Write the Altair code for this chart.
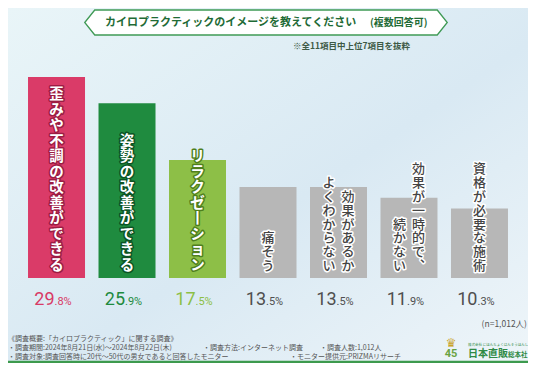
import altair as alt
import pandas as pd

# ---------------- data ----------------
categories = ["歪みや不調の改善ができる", "姿勢の改善ができる", "リラクゼーション", "痛そう",
              "効果があるかよくわからない", "効果が一時的で、続かない", "資格が必要な施術"]
values = [29.8, 25.9, 17.5, 13.5, 13.5, 11.9, 10.3]
label_right = ["歪みや不調の改善ができる", "姿勢の改善ができる", "リラクゼーション", "痛そう",
               "効果があるか", "効果が一時的で、", "資格が必要な施術"]
label_left = ["", "", "", "", "よくわからない", "続かない", ""]
bar_colors = ["#da3b68", "#1f8b3f", "#8dbf47", "#b7b7b7", "#b7b7b7", "#b7b7b7", "#b7b7b7"]
value_colors = ["#d83a66", "#1e8a3e", "#8cbf45", "#4f4f4f", "#4f4f4f", "#4f4f4f", "#4f4f4f"]
outline_colors = ["#9c1c43", "#0c5424", "#4f7f1d", "#ffffff", "#ffffff", "#ffffff", "#ffffff"]
label_colors = ["#ffffff", "#ffffff", "#ffffff", "#444444", "#444444", "#444444", "#444444"]

title_main = "カイロプラクティックのイメージを教えてください"
title_paren = "(複数回答可)"
subtitle = "※全11項目中上位7項目を抜粋"
n_note = "(n=1,012人)"
footer_lines = [
    ["《調査概要:「カイロプラクティック」に関する調査》"],
    ["・調査期間:2024年8月21日(水)～2024年8月22日(木)", "・調査方法:インターネット調査", "・調査人数:1,012人"],
    ["・調査対象:調査回答時に20代～50代の男女であると回答したモニター", "・モニター提供元:PRIZMAリサーチ"],
]

JP = "Noto Sans CJK JP"
W, H = 520, 355

VERT = {"ー": "丨", "、": "︑"}


def vertical(s):
    return "\n".join(VERT.get(ch, ch) for ch in s)


px_per = 201 / 29.8
# label styles: colored bars (first 3) and gray bars
CSIZE, CLH = 14.5, 15.5
GSIZE, GLH = 13, 13.8
GAP = 5


def top_val(s, colored):
    if not s:
        return 0
    size, lh = (CSIZE, CLH) if colored else (GSIZE, GLH)
    return (GAP + (len(s) - 1) * lh + size) / px_per


df = pd.DataFrame({
    "cat": categories,
    "value": values,
    "base": [0] * len(values),
    "barcolor": bar_colors,
    "vcolor": value_colors,
    "outline": outline_colors,
    "lcolor": label_colors,
    "int_part": [str(int(v)) for v in values],
    "dec_part": ["." + f"{v:.1f}".split(".")[1] + "%" for v in values],
    "right": [vertical(s) for s in label_right],
    "left": [vertical(s) for s in label_left],
    "ytop_r": [top_val(s, i < 3) for i, s in enumerate(label_right)],
    "ytop_l": [top_val(s, i < 3) for i, s in enumerate(label_left)],
    "two": [1 if s else 0 for s in label_left],
    "idx": list(range(len(values))),
})

yscale = alt.Scale(domain=[-(H - 270) / px_per, 270 / px_per], nice=False, zero=False)
xenc = alt.X("cat:N", sort=categories, axis=None,
             scale=alt.Scale(paddingInner=0.1915, paddingOuter=0.284))
yb = alt.Y("base:Q", scale=yscale, axis=None)

base = alt.Chart(df)

one = pd.DataFrame({"k": [0]})


def txt(s, x, y, size, color="#555555", align="left", weight="normal", font=JP, baseline="middle"):
    return alt.Chart(one).mark_text(text=s, align=align, baseline=baseline, fontSize=size,
                                    color=color, fontWeight=weight, font=font).encode(
        x=alt.value(x), y=alt.value(y))


# background
bg = alt.Chart(one).mark_rect(color=alt.Gradient(
    gradient="linear",
    stops=[alt.GradientStop(color="#e9f5f8", offset=0),
           alt.GradientStop(color="#d9e9f3", offset=0.55),
           alt.GradientStop(color="#eef5f9", offset=1)],
    x1=0, y1=0, x2=1, y2=1)).encode(
    x=alt.value(0), x2=alt.value(W), y=alt.value(0), y2=alt.value(H))

bars = base.mark_bar().encode(
    x=xenc,
    y=alt.Y("value:Q", scale=yscale, axis=None),
    y2=alt.Y2("base:Q"),
    color=alt.Color("barcolor:N", scale=None),
)

layers = [bg, bars]

colored = base.transform_filter("datum.idx < 3")
gray = base.transform_filter("datum.idx >= 3")


def vlabel(chart, field, yfield, dx, size, lh, weight):
    enc = dict(x=xenc, y=alt.Y(f"{yfield}:Q", scale=yscale, axis=None), text=f"{field}:N",
               fill=alt.Fill("lcolor:N", scale=None))
    halo = chart.mark_text(baseline="top", align="center", lineBreak="\n", dx=dx,
                           fontSize=size, lineHeight=lh, font=JP, fontWeight=weight,
                           strokeWidth=3, strokeJoin="round").encode(
        stroke=alt.Stroke("outline:N", scale=None), **enc)
    fill = chart.mark_text(baseline="top", align="center", lineBreak="\n", dx=dx,
                           fontSize=size, lineHeight=lh, font=JP, fontWeight=weight).encode(**enc)
    return [halo, fill]


layers += vlabel(colored, "right", "ytop_r", 0, CSIZE, CLH, "bold")
layers += vlabel(gray.transform_filter("datum.two == 0"), "right", "ytop_r", 0, GSIZE, GLH, 500)
layers += vlabel(gray.transform_filter("datum.two == 1"), "right", "ytop_r", 9.5, GSIZE, GLH, 500)
layers += vlabel(gray.transform_filter("datum.two == 1"), "left", "ytop_l", -9.5, GSIZE, GLH, 500)

# percent labels
pint = base.mark_text(align="right", baseline="alphabetic", dx=-2, dy=27, fontSize=18,
                      font="Roboto", fontWeight="normal").encode(
    x=xenc, y=yb, text="int_part:N", color=alt.Color("vcolor:N", scale=None))
pdec = base.mark_text(align="left", baseline="alphabetic", dx=-2, dy=27, fontSize=11,
                      font="Roboto", fontWeight="normal").encode(
    x=xenc, y=yb, text="dec_part:N", color=alt.Color("vcolor:N", scale=None))
layers += [pint, pdec]

# title banner
hw, tip = 14.5, 0.8
banner_path = (f"M{-hw},0 L{-hw + tip},-1 L{hw - tip},-1 L{hw},0 L{hw - tip},1 L{-hw + tip},1 Z")
banner = alt.Chart(one).mark_point(shape=banner_path, size=625, fill="white", fillOpacity=1,
                                   stroke="#3f9a55", strokeWidth=1.3, opacity=1).encode(
    x=alt.value(258), y=alt.value(14.5))
layers.append(banner)
layers.append(txt(title_main, 97, 14.5, 11, color="#1f6b36", weight="bold"))
layers.append(txt(title_paren, 362, 15, 10, color="#1f6b36", weight="bold"))
layers.append(txt(subtitle, 285, 38, 8.5, color="#3d5a46", weight="bold"))

# footer
layers.append(txt(n_note, 519, 316, 8.5, color="#555555", align="right"))
fy = [331, 340, 348.5]
fx = [[0], [0, 195, 312], [0, 282]]
for row, xs, y in zip(footer_lines, fx, fy):
    for s, x in zip(row, xs):
        layers.append(txt(s, x, y, 7, color="#555555"))

# logo
layers.append(txt("♛", 443, 335, 12, color="#c9a227", align="center", font="DejaVu Sans"))
layers.append(txt("45", 443, 346, 11, color="#6aa342", align="center", font="Roboto", weight="bold"))
layers.append(txt("株式会社  にほんちょくはんそうほんしゃ", 460, 337, 3.5, color="#2f8a45"))
layers.append(txt("日本直販", 460, 346, 10, color="#2f8a45", weight="bold"))
layers.append(txt("総本社", 500, 346.5, 6.5, color="#2f8a45", weight="bold"))

# bottom green line
layers.append(alt.Chart(one).mark_rule(color="#3d9a4e", strokeWidth=2.5).encode(
    x=alt.value(0), x2=alt.value(W), y=alt.value(354)))

chart = alt.layer(*layers).properties(
    width=W, height=H, padding=0, autosize=alt.AutoSizeParams(type="none"),
).configure_view(stroke=None).configure(background="#eaf3f8")

chart.save("out.html", embed_options={"renderer": "svg", "actions": False})
